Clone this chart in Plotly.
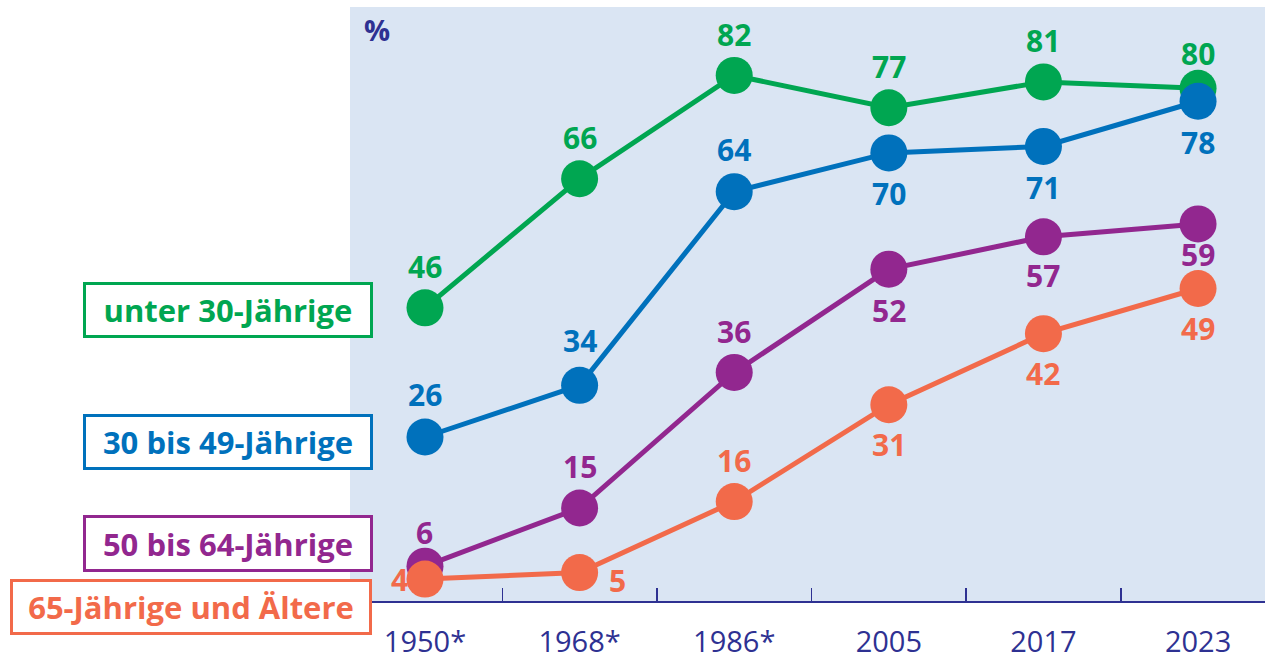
import plotly.graph_objects as go

# ---- data ----
years = ["1950*", "1968*", "1986*", "2005", "2017", "2023"]
under30 = [46, 66, 82, 77, 81, 80]
age30_49 = [26, 34, 64, 70, 71, 78]
age50_64 = [6, 15, 36, 52, 57, 59]
age65plus = [4, 5, 16, 31, 42, 49]
series_names = ["unter 30-Jährige", "30 bis 49-Jährige", "50 bis 64-Jährige", "65-Jährige und Ältere"]

# ---- styles ----
colors = ["#00a651", "#0071bc", "#92278f", "#f26a4a"]
axis_color = "#2e3192"
bg_color = "#dae5f3"
FONT = "Open Sans"

# label offsets in pixels (dx, dy; dy positive = up)
label_offsets = [
    [(0, 41), (0, 41), (0, 41), (0, 41), (0, 41), (0, 35)],
    [(0, 43), (0, 45), (0, 42), (0, -41), (0, -41), (0, -41)],
    [(0, 34), (0, 42), (0, 41), (0, -41), (0, -39), (0, -31)],
    [(-25, 0), (38, -8), (0, 41), (0, -40), (0, -40), (0, -40)],
]

# legend boxes in pixel coordinates (left, top, right, bottom)
legend_boxes = [(83, 283, 373, 339), (83, 415, 373, 471), (83, 517, 373, 574), (10, 581, 372, 637)]

# plot area in pixels
PL, PT, PR, PB = 350, 7, 1265, 603
W, H = 1265, 660

def px_to_paper(x, y):
    return (x - PL) / (PR - PL), (PB - y) / (PB - PT)

fig = go.Figure()
all_series = [under30, age30_49, age50_64, age65plus]
for name, vals, col in zip(series_names, all_series, colors):
    fig.add_trace(go.Scatter(
        x=years, y=vals, name=name, mode="lines+markers",
        line=dict(color=col, width=5),
        marker=dict(color=col, size=37, line=dict(width=0)),
        showlegend=False, cliponaxis=False, hoverinfo="skip",
    ))

annotations = []
for vals, col, offs in zip(all_series, colors, label_offsets):
    for i, (v, (dx, dy)) in enumerate(zip(vals, offs)):
        annotations.append(dict(
            x=i, y=v, xref="x", yref="y", text=str(v), showarrow=False,
            xshift=dx, yshift=dy, xanchor="center", yanchor="middle",
            font=dict(family=FONT, size=30, color=col, weight="bold"),
        ))

for name, col, (l, t, r, b) in zip(series_names, colors, legend_boxes):
    cx, cy = px_to_paper((l + r) / 2, (t + b) / 2)
    annotations.append(dict(
        x=cx, y=cy, xref="paper", yref="paper", text=name, showarrow=False,
        xanchor="center", yanchor="middle",
        width=(r - l) - 6, height=(b - t) - 6,
        bgcolor="white", bordercolor=col, borderwidth=3, borderpad=0,
        font=dict(family=FONT, size=31, color=col, weight="bold"),
        align="center", valign="middle",
    ))

px, py = px_to_paper(377, 30)
annotations.append(dict(
    x=px, y=py, xref="paper", yref="paper", text="%", showarrow=False,
    xanchor="center", yanchor="middle",
    font=dict(family=FONT, size=29, color=axis_color, weight="bold"),
))

fig.update_layout(
    width=W, height=H,
    margin=dict(l=PL, r=W - PR, t=PT, b=H - PB),
    paper_bgcolor="white", plot_bgcolor=bg_color,
    annotations=annotations,
    font=dict(family=FONT),
)
fig.update_xaxes(
    type="category", range=[-0.485, 5.433],
    tickson="boundaries", ticks="inside", ticklen=13, tickwidth=1.5, tickcolor=axis_color,
    showline=True, linecolor=axis_color, linewidth=2,
    showgrid=False, zeroline=False,
    tickfont=dict(family=FONT, size=29, color=axis_color),
    ticklabelstandoff=14,
)
fig.update_yaxes(
    range=[0.6, 92.6], showticklabels=False, showgrid=False, zeroline=False, showline=False, ticks="",
)

fig.write_html(
    "out.html",
    config={"displayModeBar": False, "staticPlot": True},
    post_script="document.body.style.margin='0';document.body.style.overflow='hidden';",
)
